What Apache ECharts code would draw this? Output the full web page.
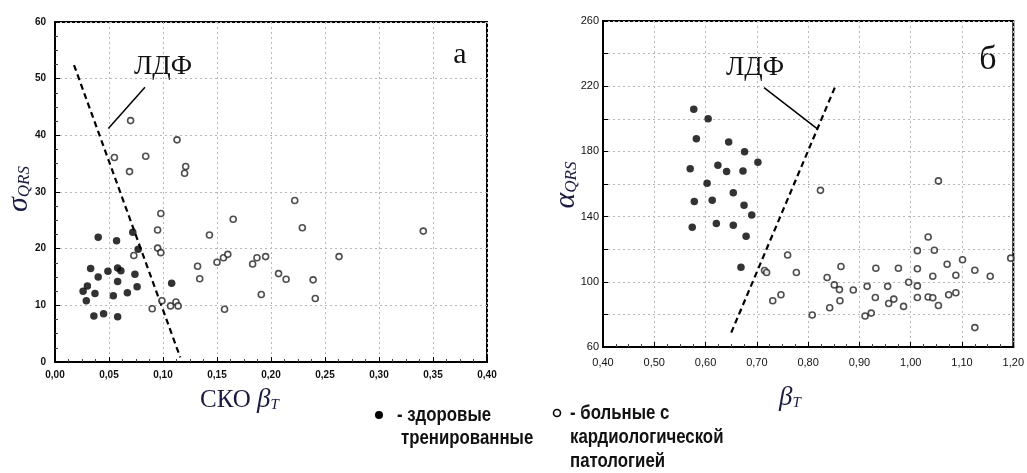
<!DOCTYPE html>
<html>
<head>
<meta charset="utf-8">
<script src="https://cdn.jsdelivr.net/npm/echarts@6/dist/echarts.min.js"></script>
<style>
    html, body { margin: 0; padding: 0; background: #fff; }
    #chart { width: 1027px; height: 473px; }
</style>
</head>
<body>
<div id="chart"></div>
<script>
// --- panel а: СКО β_T vs σ_QRS ---
const healthyA = [
    [0.026, 12.5], [0.030, 13.4], [0.029, 10.8], [0.033, 16.5], [0.037, 12.1],
    [0.036, 8.1], [0.040, 22.0], [0.040, 15.0], [0.045, 8.5], [0.049, 16.0],
    [0.054, 11.7], [0.057, 21.4], [0.058, 14.2], [0.058, 8.0], [0.058, 16.6],
    [0.061, 16.1], [0.067, 12.2], [0.072, 22.9], [0.074, 15.5], [0.076, 13.3],
    [0.077, 19.9], [0.108, 13.9]
];
const patientsA = [
    [0.070, 42.6], [0.055, 36.1], [0.069, 33.6], [0.084, 36.3], [0.113, 39.2],
    [0.121, 34.5], [0.120, 33.3], [0.098, 26.2], [0.095, 23.3], [0.095, 20.1],
    [0.098, 19.3], [0.073, 18.8], [0.090, 9.4], [0.099, 10.8], [0.107, 9.9],
    [0.112, 10.6], [0.114, 9.9], [0.132, 16.9], [0.134, 14.7], [0.143, 22.4],
    [0.150, 17.6], [0.156, 18.4], [0.160, 19.0], [0.157, 9.3], [0.165, 25.2],
    [0.183, 17.3], [0.187, 18.4], [0.195, 18.6], [0.191, 11.9], [0.207, 15.6],
    [0.214, 14.6], [0.222, 28.5], [0.229, 23.7], [0.239, 14.5], [0.241, 11.2],
    [0.263, 18.6], [0.341, 23.1]
];
const ldfA = [[0.0176, 52.4], [0.116, 0.8]];
const leaderA = [[0.0833, 48.5], [0.0494, 41.2]];
const xTicksA = [0, 0.40, 0.05];
const yTicksA = [0, 60, 10];

// --- panel б: β_T vs α_QRS ---
const healthyB = [
    [0.577, 205.9], [0.605, 200.0], [0.582, 187.8], [0.570, 169.3], [0.645, 185.7],
    [0.676, 179.8], [0.702, 173.4], [0.624, 171.5], [0.641, 167.6], [0.673, 168.0],
    [0.603, 160.4], [0.654, 154.6], [0.578, 149.3], [0.613, 150.1], [0.675, 147.0],
    [0.690, 141.0], [0.574, 133.5], [0.621, 135.7], [0.654, 134.7], [0.679, 127.9],
    [0.669, 108.9]
];
const patientsB = [
    [0.824, 156.1], [1.054, 161.9], [1.034, 127.5], [1.013, 119.1], [1.046, 119.4],
    [1.195, 114.5], [0.760, 116.4], [1.101, 113.5], [1.071, 110.8], [0.864, 109.4],
    [0.932, 108.3], [0.976, 108.3], [1.013, 108.0], [1.125, 107.1], [0.715, 106.9],
    [0.719, 105.7], [0.777, 105.7], [1.088, 104.0], [1.043, 103.4], [1.155, 103.4],
    [0.837, 102.6], [0.996, 99.7], [0.851, 98.1], [0.915, 97.2], [0.955, 97.2],
    [1.013, 97.5], [0.861, 95.2], [0.888, 95.0], [0.931, 90.4], [1.013, 90.4],
    [1.034, 90.7], [1.043, 90.2], [1.074, 92.1], [1.088, 93.3], [0.747, 92.1],
    [0.731, 88.4], [0.862, 88.4], [0.967, 89.4], [0.957, 86.7], [0.986, 84.9],
    [1.054, 85.5], [0.842, 84.1], [0.808, 79.6], [0.911, 79.0], [0.923, 80.8],
    [1.125, 71.9]
];
const ldfB = [[0.650, 68.8], [0.853, 219.9]];
const leaderB = [[0.714, 219.1], [0.818, 193.8]];
const xTicksB = [0.40, 1.20, 0.10];
const yTicksB = [60, 100, 140, 180, 220, 260];

const sans = "'Liberation Sans', Arial, sans-serif";
const serif = "'Liberation Serif', 'DejaVu Serif', serif";
const ink = "#1a1a40";

function comma(v, digits) {
    return v.toFixed(digits).replace(".", ",");
}

function makeAxis(gridIndex, [min, max, interval], labelOpt, formatter, extra) {
    return Object.assign({
        gridIndex,
        type: "value",
        min,
        max,
        interval,
        axisLine: { show: true, onZero: false, lineStyle: { color: "#000", width: 2 } },
        axisTick: { show: true, inside: true, length: 5, lineStyle: { color: "#000" } },
        minorTick: { show: true, splitNumber: 4, length: 3, lineStyle: { color: "#444" } },
        splitLine: { show: true, lineStyle: { color: "#b8b8b8", type: [2, 3], width: 1 } },
        axisLabel: Object.assign({ color: "#111", fontFamily: sans, formatter }, labelOpt)
    }, extra || {});
}

function dots(xi, data, filled) {
    return {
        type: "scatter",
        xAxisIndex: xi,
        yAxisIndex: xi,
        data,
        symbol: "circle",
        symbolSize: filled ? 7.5 : 6,
        itemStyle: filled
            ? { color: "#000" }
            : { color: "#fff", borderColor: "#222", borderWidth: 1.6 },
        z: 5,
        silent: true
    };
}

function line(xi, data, dashed) {
    return {
        type: "line",
        xAxisIndex: xi,
        yAxisIndex: xi,
        data,
        symbol: "none",
        lineStyle: { color: "#000", width: dashed ? 2.2 : 1.5, type: dashed ? [6, 4] : "solid" },
        z: 4,
        silent: true
    };
}

// italic letter with an italic subscript, optionally turned to read upwards
function subText(x, y, main, sub, size, rotate) {
    return {
        type: "text",
        x,
        y,
        rotation: rotate ? Math.PI / 2 : 0,
        style: {
            text: "{m|" + main + "}{s|" + sub + "}",
            align: "center",
            verticalAlign: "middle",
            rich: {
                m: { fontFamily: serif, fontStyle: "italic", fontSize: size, fill: ink },
                s: { fontFamily: serif, fontStyle: "italic", fontSize: Math.round(size * 0.55),
                     fill: ink, padding: [Math.round(size * 0.4), 0, 0, 0] }
            }
        }
    };
}

function plainText(x, y, text, size, font, align) {
    return {
        type: "text",
        x,
        y,
        style: { text, fontFamily: font, fontSize: size, fill: "#111", align: align || "left", verticalAlign: "middle" }
    };
}

// narrow sans text for the legend
function legendText(x, y, text) {
    return {
        type: "text",
        x,
        y,
        scaleX: 0.84,
        style: { text, fontFamily: sans, fontSize: 20, fontWeight: "bold", fill: "#111", verticalAlign: "middle" }
    };
}

function initChart() {
    const chart = echarts.init(document.getElementById("chart"), null, { renderer: "canvas" });
    const option = {
        backgroundColor: "#fff",
        animation: false,
        grid: [
            { left: 55, top: 22, width: 432, height: 340, show: true, borderColor: "#000", borderWidth: 2 },
            { left: 603, top: 21, width: 411, height: 326, show: true, borderColor: "#000", borderWidth: 2 }
        ],
        xAxis: [
            makeAxis(0, xTicksA, { fontSize: 10, fontWeight: "bold", margin: 8 }, v => comma(v, 2)),
            makeAxis(1, xTicksB, { fontSize: 11, margin: 10 }, v => comma(v, 2))
        ],
        yAxis: [
            makeAxis(0, yTicksA, { fontSize: 10, fontWeight: "bold", margin: 9 }, v => String(v)),
            makeAxis(1, [60, 260, 20], { fontSize: 11, margin: 4 },
                v => (yTicksB.includes(v) ? String(v) : ""), { minorTick: { show: false } })
        ],
        series: [
            line(0, ldfA, true),
            line(0, leaderA, false),
            dots(0, healthyA, true),
            dots(0, patientsA, false),
            line(1, ldfB, true),
            line(1, leaderB, false),
            dots(1, healthyB, true),
            dots(1, patientsB, false)
        ],
        graphic: [
            plainText(163, 67, "ЛДФ", 27, serif, "center"),
            plainText(755, 68, "ЛДФ", 27, serif, "center"),
            plainText(460, 55, "а", 30, serif, "center"),
            plainText(988, 60, "б", 34, serif, "center"),
            subText(19, 189, "σ", "QRS", 30, true),
            subText(566, 185, "α", "QRS", 30, true),
            {
                type: "text", x: 200, y: 400,
                style: {
                    text: "{c|СКО }{m|β}{s|T}", verticalAlign: "middle",
                    rich: {
                        c: { fontFamily: serif, fontSize: 25, fill: ink },
                        m: { fontFamily: serif, fontStyle: "italic", fontSize: 27, fill: ink },
                        s: { fontFamily: serif, fontStyle: "italic", fontSize: 15, fill: ink, padding: [10, 0, 0, 0] }
                    }
                }
            },
            subText(790, 398, "β", "T", 27, false),
            { type: "circle", shape: { cx: 379, cy: 415, r: 4 }, style: { fill: "#000" } },
            { type: "circle", shape: { cx: 557, cy: 413, r: 3.5 }, style: { fill: "#fff", stroke: "#000", lineWidth: 1.6 } },
            legendText(397, 415, "- здоровые"),
            legendText(401, 438, "тренированные"),
            legendText(570, 413, "- больные с"),
            legendText(570, 437, "кардиологической"),
            legendText(570, 461, "патологией")
        ]
    };
    chart.setOption(option);
}

initChart();
</script>
</body>
</html>
